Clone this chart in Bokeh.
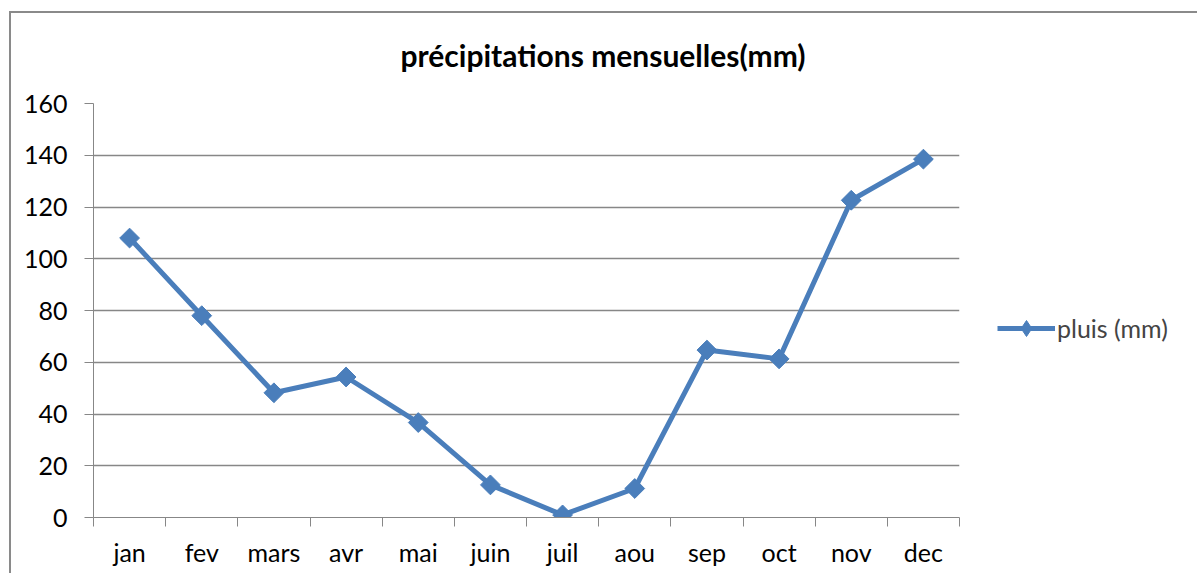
import numpy as np
from bokeh.plotting import figure
from bokeh.models import Range1d, FixedTicker, Legend, LegendItem, ColumnDataSource
from bokeh.embed import file_html
from bokeh.resources import INLINE

months = ["jan", "fev", "mars", "avr", "mai", "juin", "juil", "aou", "sep", "oct", "nov", "dec"]
pluie = [108, 78, 48.2, 54.3, 36.7, 12.6, 1.0, 11.2, 64.7, 61.3, 122.6, 138.5]
y_ticks = [0, 20, 40, 60, 80, 100, 120, 140, 160]
title_text = "précipitations mensuelles(mm)"
series_name = "pluis (mm)"

FONT = "Lato"
GRID = "#878787"
LINE = "#4A7EBB"
EDGE = "#8a8a8a"

xpos = [i + 0.5 for i in range(len(months))]
src = ColumnDataSource(dict(x=xpos, y=pluie, m=months))

p = figure(frame_width=866, frame_height=414, x_range=Range1d(0, len(months)), y_range=Range1d(0, 160),
           output_backend="svg", toolbar_location=None,
           min_border_left=84, min_border_top=101, min_border_right=228, min_border_bottom=56)
# chart-area edge (top and left), drawn as the element background
p.styles = {"background": (f"linear-gradient({EDGE}, {EDGE}) 0px 9px / 100% 2px no-repeat, "
                           f"linear-gradient({EDGE}, {EDGE}) 0px 9px / 2px 100% no-repeat, white")}
p.margin = (2, 0, 0, 9)
p.outline_line_color = None
p.background_fill_color = "white"
p.border_fill_color = None

p.title.text = title_text
p.title.text_font = FONT
p.title.text_font_style = "bold"
p.title.text_font_size = "30px"
p.title.align = "left"
p.title.offset = 307
p.title.standoff = 61
p.title.text_color = "black"

# x axis: labels at category centres, ticks between categories
p.xaxis.ticker = FixedTicker(ticks=xpos, minor_ticks=list(range(len(months) + 1)))
p.xaxis.major_label_overrides = {x: m for x, m in zip(xpos, months)}
p.xaxis.major_tick_out = 0
p.xaxis.major_tick_in = 0
p.xaxis.minor_tick_out = 9
p.xaxis.minor_tick_in = 0
p.xaxis.minor_tick_line_color = GRID
p.xaxis.axis_line_color = GRID
p.xaxis.major_label_standoff = 10
p.xaxis.major_label_text_font = FONT
p.xaxis.major_label_text_font_size = "25px"
p.xaxis.major_label_text_color = "black"

p.yaxis.ticker = FixedTicker(ticks=y_ticks)
p.yaxis.major_tick_out = 9
p.yaxis.major_tick_in = 0
p.yaxis.minor_tick_out = 0
p.yaxis.minor_tick_in = 0
p.yaxis.major_tick_line_color = GRID
p.yaxis.axis_line_color = GRID
p.yaxis.major_label_standoff = 17
p.yaxis.major_label_text_font = FONT
p.yaxis.major_label_text_font_size = "25px"
p.yaxis.major_label_text_color = "black"

p.xgrid.grid_line_color = None
p.ygrid.ticker = FixedTicker(ticks=y_ticks[1:])
p.ygrid.grid_line_color = GRID
p.ygrid.grid_line_width = 1.3

ln = p.line("x", "y", source=src, line_color=LINE, line_width=5)
# narrow diamond used for the legend symbol (fully hidden under the data markers)
mk_leg = p.scatter("x", "y", source=src, marker="diamond", size=16,
                   fill_color=LINE, line_color=LINE)
mk = p.scatter("x", "y", source=src, marker="square", angle=np.pi / 4, size=14,
               fill_color=LINE, line_color=LINE)

legend = Legend(items=[LegendItem(label=series_name, renderers=[ln, mk_leg])],
                location=(38, 169), orientation="vertical",
                border_line_color=None, background_fill_alpha=0,
                glyph_width=58, glyph_height=40, label_standoff=2, padding=0, margin=0,
                label_text_font=FONT, label_text_font_size="25px")
p.add_layout(legend, "right")

open("out.html", "w").write(file_html(p, INLINE))
